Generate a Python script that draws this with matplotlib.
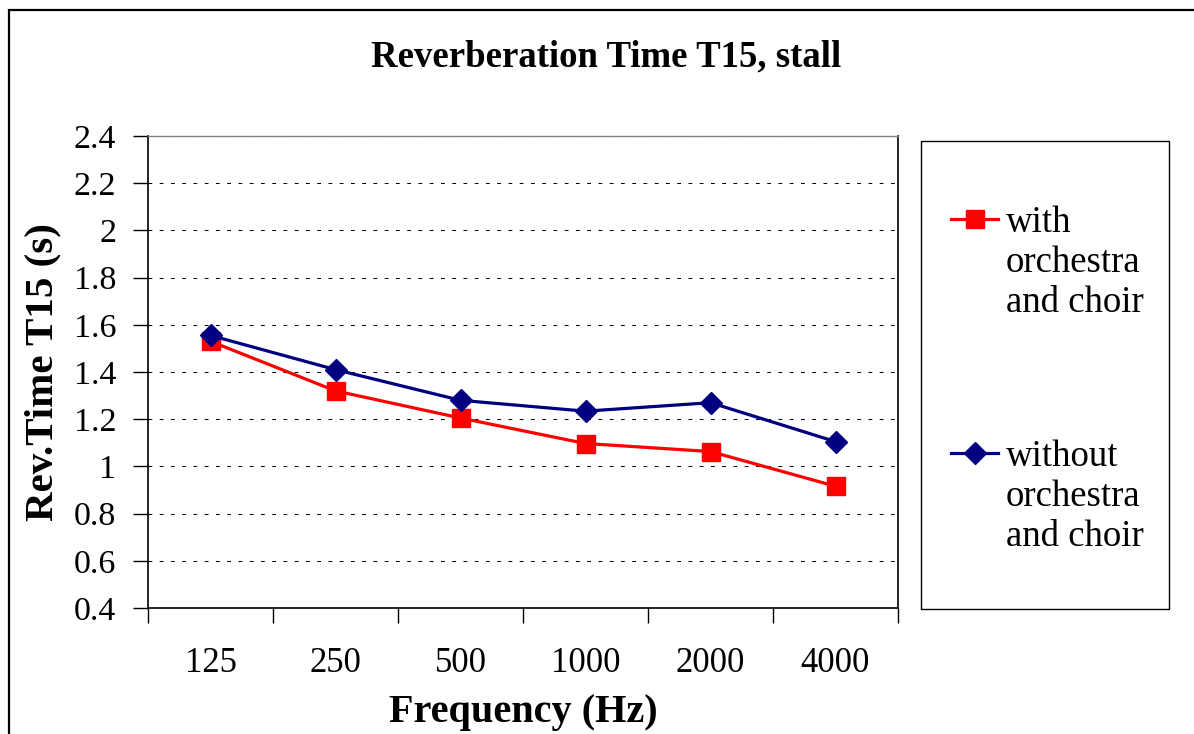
import numpy as np
from matplotlib import pyplot as plt
import matplotlib.patches as patches
from matplotlib.lines import Line2D

freqs = ['125', '250', '500', '1000', '2000', '4000']
with_orch = [1.53, 1.32, 1.205, 1.097, 1.063, 0.916]
without_orch = [1.555, 1.41, 1.28, 1.234, 1.27, 1.105]
series_labels = ['with\norchestra\nand choir', 'without\norchestra\nand choir']

W, H = 1194, 734
plt.rcParams['font.family'] = ['Liberation Serif', 'DejaVu Serif']

fig = plt.figure(figsize=(W / 100, H / 100), dpi=100)

def px(x0, y0, x1, y1):
    # pixel box (top-left origin) -> figure fraction rect
    return [x0 / W, 1 - y1 / H, (x1 - x0) / W, (y1 - y0) / H]

# outer chart border
fig.add_artist(patches.Rectangle((9 / W, -0.1), 1.2, 1 - 10 / H + 0.1,
                                 transform=fig.transFigure, fill=False,
                                 lw=1.6, ec='black'))

g = fig.add_axes(px(148, 136, 898, 608))
x = np.arange(len(freqs))
l1, = g.plot(x, with_orch, color='#FF0000', lw=2.3, marker='s', ms=12.5,
             markeredgecolor='#FF0000', zorder=4)
l2, = g.plot(x, without_orch, color='#000080', lw=2.3, marker='D', ms=11,
             markeredgecolor='#000080', zorder=5)

g.set_xlim(-0.5, len(freqs) - 0.5)
g.set_ylim(0.4, 2.4)
g.set_yticks(np.arange(0.4, 2.41, 0.2))
g.set_yticklabels(['%g' % round(v, 1) for v in np.arange(0.4, 2.41, 0.2)])
g.set_xticks(x)
g.set_xticklabels(freqs)
g.set_xticks(np.arange(-0.5, len(freqs), 1.0), minor=True)
g.tick_params(axis='x', which='major', length=0, pad=28, labelsize=25)
g.tick_params(axis='x', which='minor', length=11, width=1, direction='out')
g.tick_params(axis='y', length=11, width=1, direction='out', pad=12, labelsize=24.5)

g.yaxis.grid(True, color='black', lw=0.75, linestyle=(0, (3.6, 7.2)))
g.set_axisbelow(True)
for s in ['left', 'bottom', 'right']:
    g.spines[s].set_color('black')
    g.spines[s].set_linewidth(1.2)
g.spines['top'].set_color('#808080')
g.spines['top'].set_linewidth(1.0)

g.set_xlabel('Frequency (Hz)', fontsize=29, fontweight='bold', labelpad=10)
g.set_ylabel('Rev.Time T15 (s)', fontsize=29.5, fontweight='bold', labelpad=9)

fig.text(606 / W, 1 - 57 / H, 'Reverberation Time T15, stall', fontsize=26.5,
         fontweight='bold', ha='center', va='center')

# legend box
fig.add_artist(patches.Rectangle((921 / W, 1 - 609 / H), 248 / W, 468 / H,
                                 transform=fig.transFigure, fill=False,
                                 lw=1.0, ec='black'))
for line, label, yc in zip([l1, l2], series_labels, [219, 453]):
    fig.add_artist(Line2D([951 / W, 998 / W], [1 - yc / H] * 2,
                          transform=fig.transFigure, color=line.get_color(),
                          lw=line.get_linewidth()))
    fig.add_artist(Line2D([974.5 / W], [1 - yc / H], transform=fig.transFigure,
                          color=line.get_color(), marker=line.get_marker(),
                          ms=line.get_markersize(), lw=0))
    fig.text(1006 / W, 1 - (yc - 14) / H, label, fontsize=26.5, ha='left',
             va='top', linespacing=1.22)

fig.savefig('out.png', dpi=100)
